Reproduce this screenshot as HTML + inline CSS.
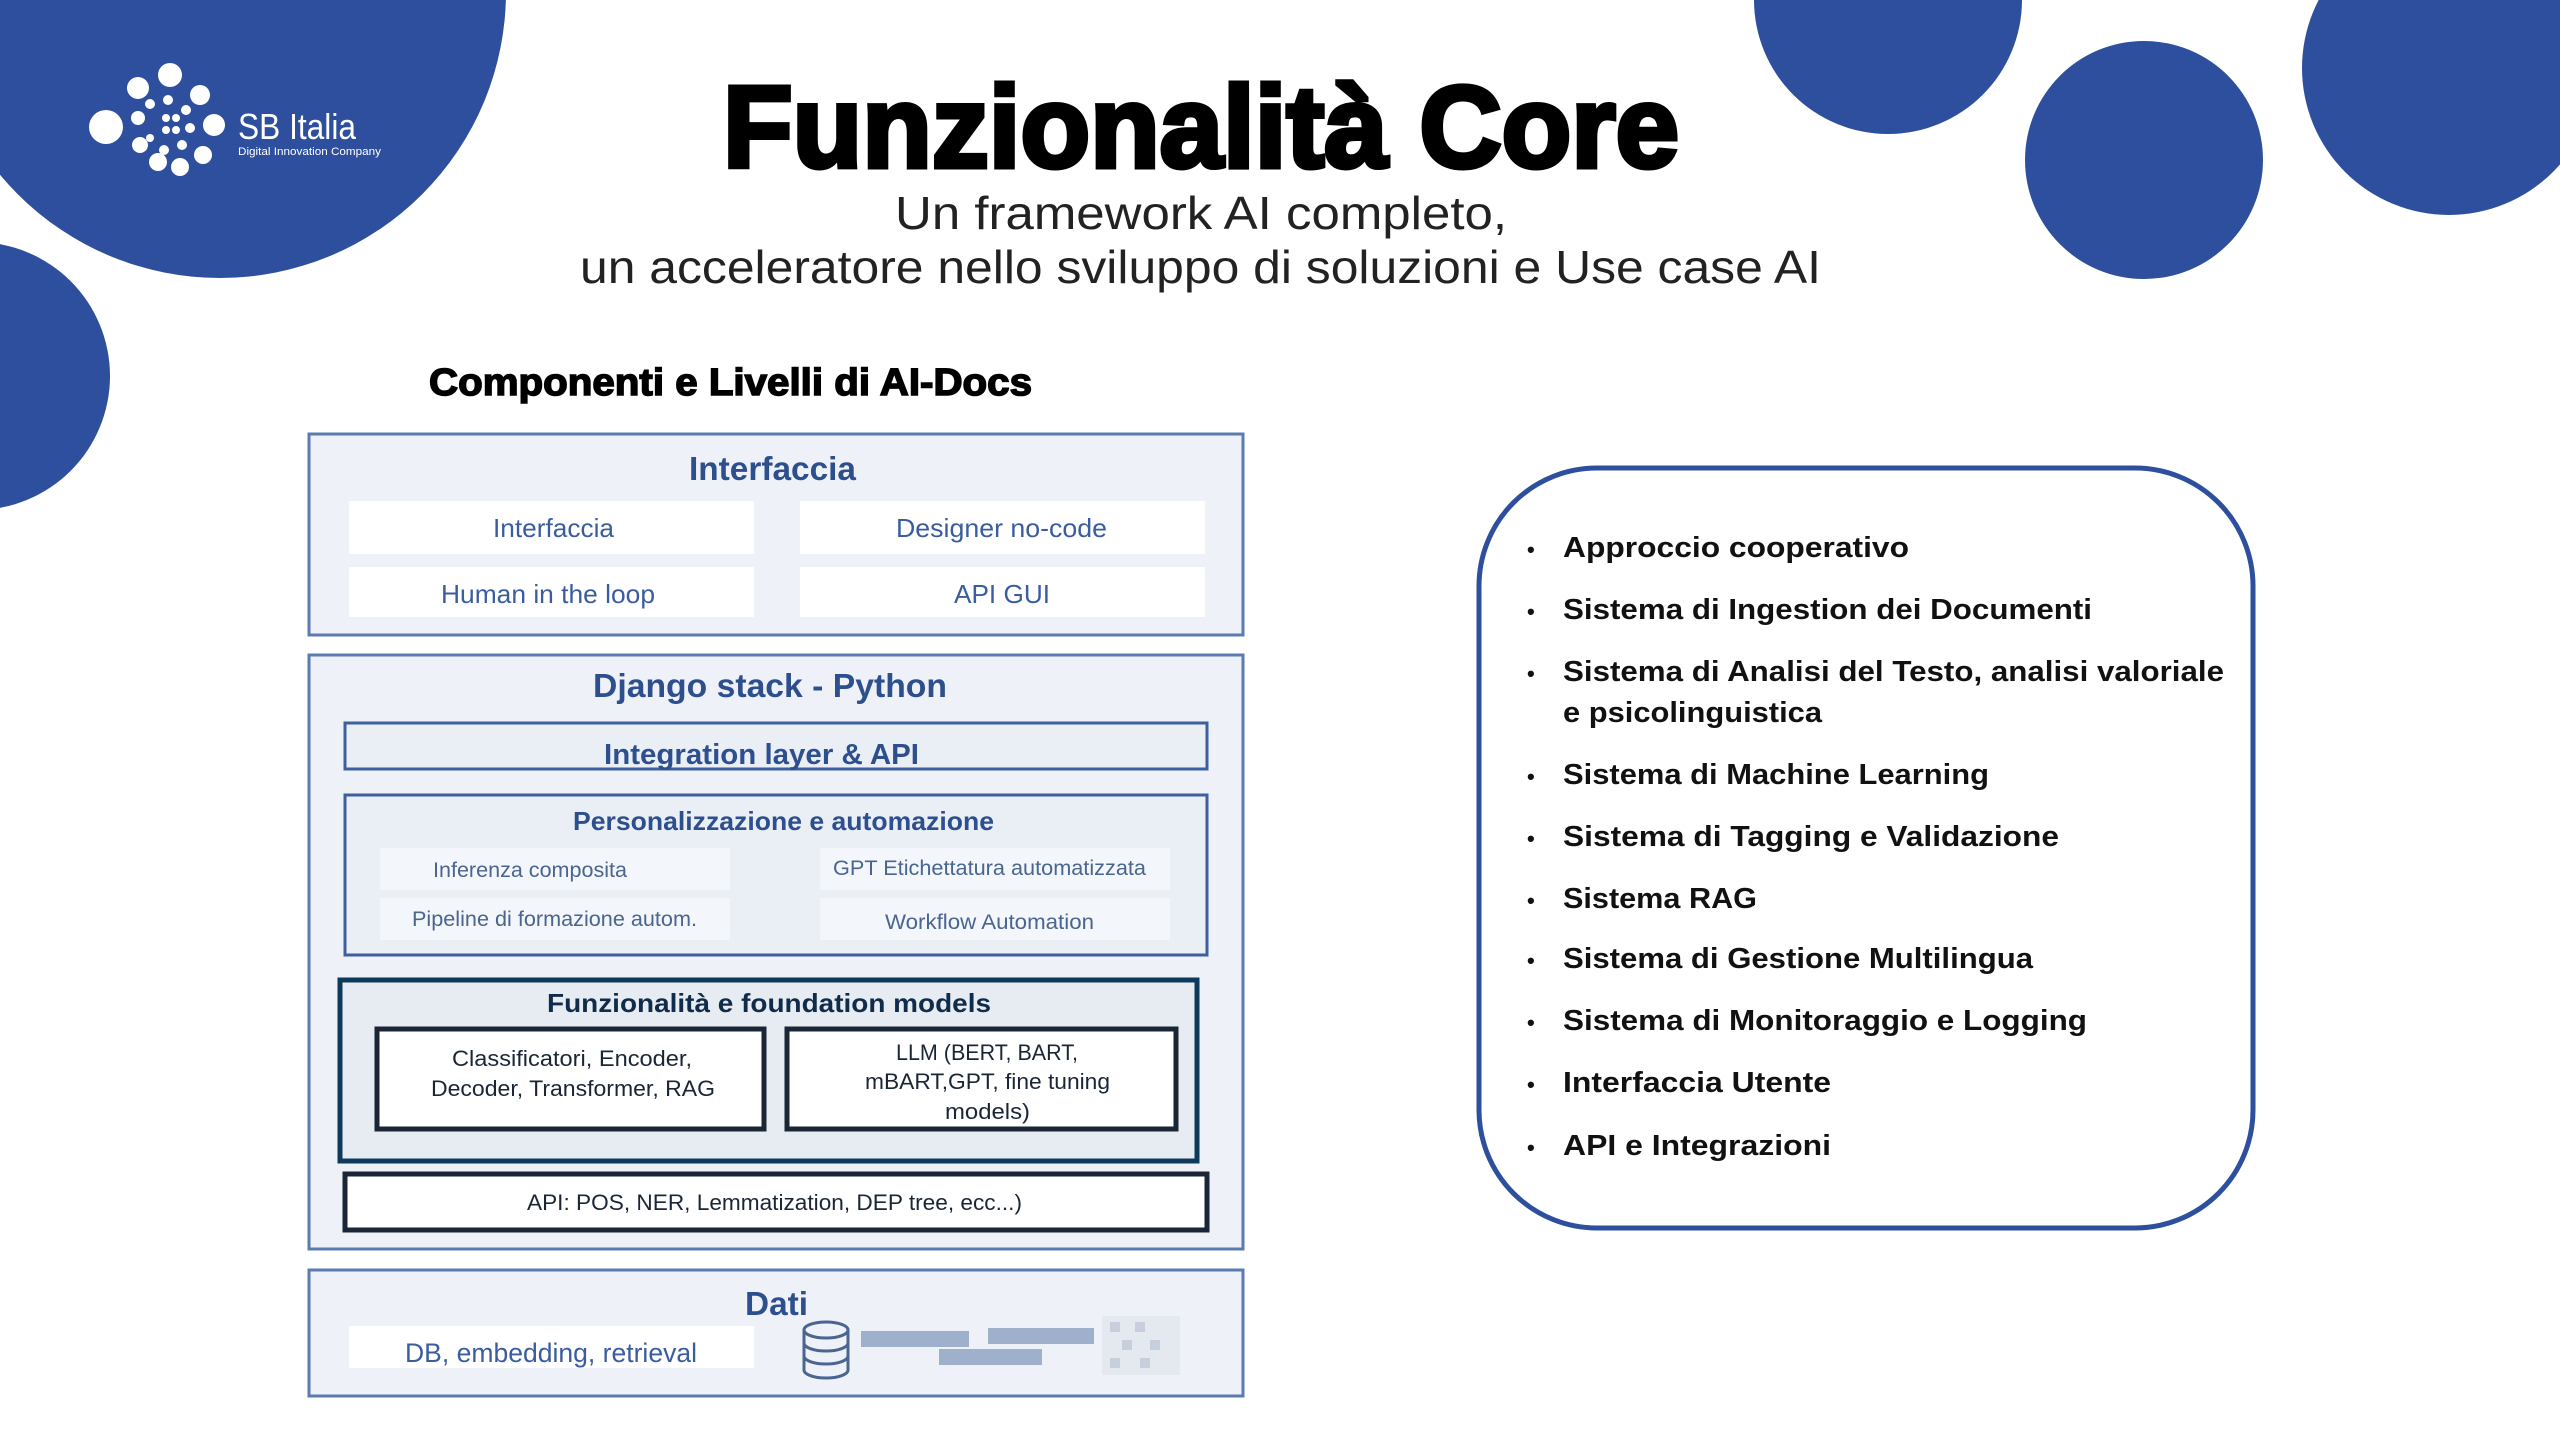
<!DOCTYPE html>
<html><head><meta charset="utf-8"><style>
html,body{margin:0;padding:0;background:#fff;}
svg{display:block;}
text{font-family:"Liberation Sans",Arial,sans-serif;}
</style></head><body>
<svg width="2560" height="1440" viewBox="0 0 2560 1440" xmlns="http://www.w3.org/2000/svg">
<g fill="#2d4f9e">
<circle cx="220" cy="-8" r="286"/>
<circle cx="-24" cy="376" r="134"/>
<circle cx="1888" cy="0" r="134"/>
<circle cx="2144" cy="160" r="119"/>
<circle cx="2449" cy="68" r="147"/>
</g>
<g fill="#fff">
<circle cx="106" cy="127" r="17"/>
<circle cx="138" cy="88" r="11"/>
<circle cx="170" cy="75" r="12"/>
<circle cx="200" cy="95" r="10"/>
<circle cx="214" cy="125" r="11"/>
<circle cx="203" cy="155" r="9"/>
<circle cx="180" cy="167" r="9"/>
<circle cx="158" cy="162" r="9"/>
<circle cx="140" cy="145" r="8"/>
<circle cx="138" cy="118" r="7"/>
<circle cx="150" cy="104" r="5"/>
<circle cx="168" cy="100" r="5"/>
<circle cx="186" cy="110" r="5"/>
<circle cx="190" cy="128" r="5"/>
<circle cx="182" cy="145" r="5"/>
<circle cx="164" cy="150" r="5"/>
<circle cx="150" cy="138" r="4"/>
<circle cx="166" cy="118" r="4"/><circle cx="176" cy="118" r="4"/>
<circle cx="166" cy="130" r="4"/><circle cx="176" cy="130" r="4"/>
<text x="238" y="139" font-size="36" textLength="118" lengthAdjust="spacingAndGlyphs" fill="#fff">SB Italia</text>
<text x="238" y="155" font-size="11" textLength="143" lengthAdjust="spacingAndGlyphs" fill="#fff">Digital Innovation Company</text>
</g>
<text x="723" y="167" font-size="116" font-weight="bold" stroke="#000" stroke-width="5" textLength="956" lengthAdjust="spacingAndGlyphs" fill="#000">Funzionalità Core</text>
<text x="895" y="229" font-size="46" fill="#222" textLength="612" lengthAdjust="spacingAndGlyphs">Un framework AI completo,</text>
<text x="580" y="283" font-size="46" fill="#222" textLength="1241" lengthAdjust="spacingAndGlyphs">un acceleratore nello sviluppo di soluzioni e Use case AI</text>
<text x="429" y="395" font-size="38" font-weight="bold" stroke="#000" stroke-width="1.5" textLength="603" lengthAdjust="spacingAndGlyphs" fill="#000">Componenti e Livelli di AI-Docs</text>

<rect x="309" y="434" width="934" height="201" fill="#eef2f8" stroke="#5a7bb0" stroke-width="3"/>
<text x="689" y="480" font-size="33" font-weight="bold" fill="#2d4f8e" textLength="167" lengthAdjust="spacingAndGlyphs">Interfaccia</text>
<g fill="#fff">
<rect x="349" y="501" width="405" height="53"/><rect x="800" y="501" width="405" height="53"/>
<rect x="349" y="567" width="405" height="50"/><rect x="800" y="567" width="405" height="50"/>
</g>
<g font-size="26" fill="#3a5da0">
<text x="493" y="537" textLength="121" lengthAdjust="spacingAndGlyphs">Interfaccia</text>
<text x="896" y="537" textLength="211" lengthAdjust="spacingAndGlyphs">Designer no-code</text>
<text x="441" y="603" textLength="214" lengthAdjust="spacingAndGlyphs">Human in the loop</text>
<text x="954" y="603" textLength="96" lengthAdjust="spacingAndGlyphs">API GUI</text>
</g>

<rect x="309" y="655" width="934" height="594" fill="#eef2f8" stroke="#5a7bb0" stroke-width="3"/>
<text x="593" y="697" font-size="33" font-weight="bold" fill="#2d4f8e" textLength="354" lengthAdjust="spacingAndGlyphs">Django stack - Python</text>
<rect x="345" y="723" width="862" height="46" fill="#eaeff6" stroke="#3d5f9f" stroke-width="3"/>
<text x="604" y="764" font-size="29" font-weight="bold" fill="#2d4f8e" textLength="315" lengthAdjust="spacingAndGlyphs">Integration layer &amp; API</text>
<rect x="345" y="795" width="862" height="160" fill="#eaeff6" stroke="#3d5f9f" stroke-width="3"/>
<text x="573" y="830" font-size="26" font-weight="bold" fill="#2d4f8e" textLength="421" lengthAdjust="spacingAndGlyphs">Personalizzazione e automazione</text>
<g fill="#f3f6fa">
<rect x="380" y="848" width="350" height="42"/><rect x="820" y="848" width="350" height="42"/>
<rect x="380" y="898" width="350" height="42"/><rect x="820" y="898" width="350" height="42"/>
</g>
<g font-size="21" fill="#4a6590">
<text x="433" y="877" textLength="194" lengthAdjust="spacingAndGlyphs">Inferenza composita</text>
<text x="833" y="875" textLength="313" lengthAdjust="spacingAndGlyphs">GPT Etichettatura automatizzata</text>
<text x="412" y="926" textLength="285" lengthAdjust="spacingAndGlyphs">Pipeline di formazione autom.</text>
<text x="885" y="929" textLength="209" lengthAdjust="spacingAndGlyphs">Workflow Automation</text>
</g>
<rect x="340" y="980" width="857" height="181" fill="#e7ecf2" stroke="#0d3a5a" stroke-width="5"/>
<text x="547" y="1012" font-size="26" font-weight="bold" fill="#0f2d4a" textLength="444" lengthAdjust="spacingAndGlyphs">Funzionalità e foundation models</text>
<rect x="377" y="1029" width="387" height="100" fill="#fff" stroke="#1a2636" stroke-width="5"/>
<rect x="787" y="1029" width="389" height="100" fill="#fff" stroke="#1a2636" stroke-width="5"/>
<g font-size="22" fill="#1a2636">
<text x="452" y="1066" textLength="240" lengthAdjust="spacingAndGlyphs">Classificatori, Encoder,</text>
<text x="431" y="1096" textLength="284" lengthAdjust="spacingAndGlyphs">Decoder, Transformer, RAG</text>
<text x="896" y="1060" textLength="182" lengthAdjust="spacingAndGlyphs">LLM (BERT, BART,</text>
<text x="865" y="1089" textLength="245" lengthAdjust="spacingAndGlyphs">mBART,GPT, fine tuning</text>
<text x="945" y="1119" textLength="85" lengthAdjust="spacingAndGlyphs">models)</text>
</g>
<rect x="345" y="1174" width="862" height="56" fill="#fff" stroke="#1a2636" stroke-width="5"/>
<text x="527" y="1210" font-size="22" fill="#1a2636" textLength="495" lengthAdjust="spacingAndGlyphs">API: POS, NER, Lemmatization, DEP tree, ecc...)</text>

<rect x="309" y="1270" width="934" height="126" fill="#eef2f8" stroke="#5a7bb0" stroke-width="3"/>
<text x="745" y="1315" font-size="33" font-weight="bold" fill="#2d4f8e" textLength="63" lengthAdjust="spacingAndGlyphs">Dati</text>
<rect x="349" y="1326" width="405" height="42" fill="#fff"/>
<text x="405" y="1362" font-size="27" fill="#3a5da0" textLength="292" lengthAdjust="spacingAndGlyphs">DB, embedding, retrieval</text>
<g fill="none" stroke="#4a6590" stroke-width="3">
<ellipse cx="826" cy="1330" rx="22" ry="8"/>
<path d="M804 1330 V1370 A22 8 0 0 0 848 1370 V1330"/>
<path d="M804 1343 A22 8 0 0 0 848 1343"/>
<path d="M804 1356 A22 8 0 0 0 848 1356"/>
</g>
<g fill="#9fb0cc">
<rect x="861" y="1331" width="108" height="16"/>
<rect x="988" y="1328" width="106" height="16"/>
<rect x="939" y="1349" width="103" height="16"/>
</g>
<rect x="1102" y="1316" width="78" height="59" fill="#e4e8ef"/>
<g fill="#c6cfdc">
<rect x="1110" y="1322" width="10" height="10"/><rect x="1135" y="1322" width="10" height="10"/>
<rect x="1122" y="1340" width="10" height="10"/><rect x="1150" y="1340" width="10" height="10"/>
<rect x="1110" y="1358" width="10" height="10"/><rect x="1140" y="1358" width="10" height="10"/>
</g>

<rect x="1479" y="468" width="774" height="760" rx="118" ry="118" fill="#fff" stroke="#2d4f9e" stroke-width="5"/>
<g font-size="29" font-weight="bold" fill="#111">
<g font-size="22"><text x="1527" y="557">•</text><text x="1527" y="619">•</text><text x="1527" y="681">•</text><text x="1527" y="784">•</text><text x="1527" y="846">•</text><text x="1527" y="908">•</text><text x="1527" y="968">•</text><text x="1527" y="1030">•</text><text x="1527" y="1092">•</text><text x="1527" y="1155">•</text></g>
<text x="1563" y="557" textLength="346" lengthAdjust="spacingAndGlyphs">Approccio cooperativo</text>
<text x="1563" y="619" textLength="529" lengthAdjust="spacingAndGlyphs">Sistema di Ingestion dei Documenti</text>
<text x="1563" y="681" textLength="661" lengthAdjust="spacingAndGlyphs">Sistema di Analisi del Testo, analisi valoriale</text>
<text x="1563" y="722" textLength="259" lengthAdjust="spacingAndGlyphs">e psicolinguistica</text>
<text x="1563" y="784" textLength="426" lengthAdjust="spacingAndGlyphs">Sistema di Machine Learning</text>
<text x="1563" y="846" textLength="496" lengthAdjust="spacingAndGlyphs">Sistema di Tagging e Validazione</text>
<text x="1563" y="908" textLength="194" lengthAdjust="spacingAndGlyphs">Sistema RAG</text>
<text x="1563" y="968" textLength="470" lengthAdjust="spacingAndGlyphs">Sistema di Gestione Multilingua</text>
<text x="1563" y="1030" textLength="524" lengthAdjust="spacingAndGlyphs">Sistema di Monitoraggio e Logging</text>
<text x="1563" y="1092" textLength="268" lengthAdjust="spacingAndGlyphs">Interfaccia Utente</text>
<text x="1563" y="1155" textLength="268" lengthAdjust="spacingAndGlyphs">API e Integrazioni</text>
</g>
</svg>
</body></html>
